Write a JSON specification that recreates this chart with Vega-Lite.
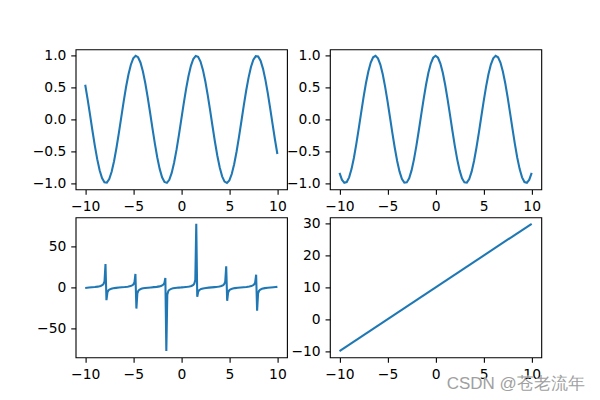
{
  "$schema": "https://vega.github.io/schema/vega-lite/v6.json",
  "padding": {"left": 31.6, "top": 47.4, "right": 5, "bottom": 5},
  "background": "white",
  "title": {"text": "CSDN @苍老流年", "orient": "bottom", "anchor": "end", "font": "Liberation Sans", "fontSize": 17, "fontWeight": "normal", "color": "#a0a0a0", "offset": -6, "dx": 43},
  "config": {
    "view": {"stroke": "black", "strokeWidth": 1.1},
    "axis": {"domain": false, "grid": false, "tickColor": "black", "tickSize": 4.86, "tickWidth": 1.1, "labelFont": "DejaVu Sans", "labelFontSize": 13.9, "labelColor": "black", "labelPadding": 4.86, "labelOverlap": false, "labelFlush": false, "title": null}
  },
  "datasets": {
    "trig": [
      {"x": -10, "s": 0.544, "c": -0.8391},
      {"x": -9.75, "s": 0.3195, "c": -0.9475},
      {"x": -9.5, "s": 0.0752, "c": -0.9972},
      {"x": -9.25, "s": -0.1743, "c": -0.9847},
      {"x": -9, "s": -0.4121, "c": -0.9111},
      {"x": -8.75, "s": -0.6247, "c": -0.7809},
      {"x": -8.5, "s": -0.7985, "c": -0.602},
      {"x": -8.25, "s": -0.9228, "c": -0.3853},
      {"x": -8, "s": -0.9894, "c": -0.1455},
      {"x": -7.75, "s": -0.9946, "c": 0.1037},
      {"x": -7.5, "s": -0.938, "c": 0.3466},
      {"x": -7.25, "s": -0.8231, "c": 0.5679},
      {"x": -7, "s": -0.657, "c": 0.7539},
      {"x": -6.75, "s": -0.45, "c": 0.8932},
      {"x": -6.5, "s": -0.2151, "c": 0.9766},
      {"x": -6.25, "s": 0.0332, "c": 0.9995},
      {"x": -6, "s": 0.2794, "c": 0.9602},
      {"x": -5.75, "s": 0.5083, "c": 0.8612},
      {"x": -5.5, "s": 0.7055, "c": 0.7087},
      {"x": -5.25, "s": 0.8589, "c": 0.5121},
      {"x": -5, "s": 0.9589, "c": 0.2837},
      {"x": -4.75, "s": 0.9993, "c": 0.0376},
      {"x": -4.5, "s": 0.9775, "c": -0.2108},
      {"x": -4.25, "s": 0.895, "c": -0.4461},
      {"x": -4, "s": 0.7568, "c": -0.6536},
      {"x": -3.75, "s": 0.5716, "c": -0.8206},
      {"x": -3.5, "s": 0.3508, "c": -0.9365},
      {"x": -3.25, "s": 0.108, "c": -0.9941},
      {"x": -3, "s": -0.1411, "c": -0.99},
      {"x": -2.75, "s": -0.3817, "c": -0.9243},
      {"x": -2.5, "s": -0.5985, "c": -0.8011},
      {"x": -2.25, "s": -0.7781, "c": -0.6282},
      {"x": -2, "s": -0.9093, "c": -0.4161},
      {"x": -1.75, "s": -0.984, "c": -0.1782},
      {"x": -1.5, "s": -0.9975, "c": 0.0707},
      {"x": -1.25, "s": -0.949, "c": 0.3153},
      {"x": -1, "s": -0.8415, "c": 0.5403},
      {"x": -0.75, "s": -0.6816, "c": 0.7317},
      {"x": -0.5, "s": -0.4794, "c": 0.8776},
      {"x": -0.25, "s": -0.2474, "c": 0.9689},
      {"x": 0, "s": 0, "c": 1},
      {"x": 0.25, "s": 0.2474, "c": 0.9689},
      {"x": 0.5, "s": 0.4794, "c": 0.8776},
      {"x": 0.75, "s": 0.6816, "c": 0.7317},
      {"x": 1, "s": 0.8415, "c": 0.5403},
      {"x": 1.25, "s": 0.949, "c": 0.3153},
      {"x": 1.5, "s": 0.9975, "c": 0.0707},
      {"x": 1.75, "s": 0.984, "c": -0.1782},
      {"x": 2, "s": 0.9093, "c": -0.4161},
      {"x": 2.25, "s": 0.7781, "c": -0.6282},
      {"x": 2.5, "s": 0.5985, "c": -0.8011},
      {"x": 2.75, "s": 0.3817, "c": -0.9243},
      {"x": 3, "s": 0.1411, "c": -0.99},
      {"x": 3.25, "s": -0.108, "c": -0.9941},
      {"x": 3.5, "s": -0.3508, "c": -0.9365},
      {"x": 3.75, "s": -0.5716, "c": -0.8206},
      {"x": 4, "s": -0.7568, "c": -0.6536},
      {"x": 4.25, "s": -0.895, "c": -0.4461},
      {"x": 4.5, "s": -0.9775, "c": -0.2108},
      {"x": 4.75, "s": -0.9993, "c": 0.0376},
      {"x": 5, "s": -0.9589, "c": 0.2837},
      {"x": 5.25, "s": -0.8589, "c": 0.5121},
      {"x": 5.5, "s": -0.7055, "c": 0.7087},
      {"x": 5.75, "s": -0.5083, "c": 0.8612},
      {"x": 6, "s": -0.2794, "c": 0.9602},
      {"x": 6.25, "s": -0.0332, "c": 0.9995},
      {"x": 6.5, "s": 0.2151, "c": 0.9766},
      {"x": 6.75, "s": 0.45, "c": 0.8932},
      {"x": 7, "s": 0.657, "c": 0.7539},
      {"x": 7.25, "s": 0.8231, "c": 0.5679},
      {"x": 7.5, "s": 0.938, "c": 0.3466},
      {"x": 7.75, "s": 0.9946, "c": 0.1037},
      {"x": 8, "s": 0.9894, "c": -0.1455},
      {"x": 8.25, "s": 0.9228, "c": -0.3853},
      {"x": 8.5, "s": 0.7985, "c": -0.602},
      {"x": 8.75, "s": 0.6247, "c": -0.7809},
      {"x": 9, "s": 0.4121, "c": -0.9111},
      {"x": 9.25, "s": 0.1743, "c": -0.9847},
      {"x": 9.5, "s": -0.0752, "c": -0.9972},
      {"x": 9.75, "s": -0.3195, "c": -0.9475},
      {"x": 10, "s": -0.544, "c": -0.8391}
    ],
    "tan": [
      {"x": -10, "t": -0.6484},
      {"x": -9.799, "t": -0.3927},
      {"x": -9.598, "t": -0.175},
      {"x": -9.2965, "t": 0.129},
      {"x": -8.995, "t": 0.4584},
      {"x": -8.6935, "t": 0.8981},
      {"x": -8.392, "t": 1.676},
      {"x": -8.191, "t": 2.855},
      {"x": -8.0905, "t": 4.15},
      {"x": -7.9899, "t": 7.309},
      {"x": -7.8894, "t": 28.18},
      {"x": -7.7889, "t": -15.35},
      {"x": -7.6884, "t": -5.986},
      {"x": -7.5879, "t": -3.67},
      {"x": -7.4874, "t": -2.605},
      {"x": -7.2864, "t": -1.5685},
      {"x": -7.0854, "t": -1.0342},
      {"x": -6.7839, "t": -0.5473},
      {"x": -6.4824, "t": -0.2019},
      {"x": -6.1809, "t": 0.1026},
      {"x": -5.8794, "t": 0.4273},
      {"x": -5.5779, "t": 0.8517},
      {"x": -5.2764, "t": 1.581},
      {"x": -5.0754, "t": 2.633},
      {"x": -4.9749, "t": 3.722},
      {"x": -4.8744, "t": 6.12},
      {"x": -4.7739, "t": 16.25},
      {"x": -4.6734, "t": -25.61},
      {"x": -4.5729, "t": -7.12},
      {"x": -4.4724, "t": -4.086},
      {"x": -4.3719, "t": -2.822},
      {"x": -4.1709, "t": -1.6625},
      {"x": -3.9698, "t": -1.0896},
      {"x": -3.7688, "t": -0.7249},
      {"x": -3.4673, "t": -0.3378},
      {"x": -3.1658, "t": -0.0242},
      {"x": -2.8643, "t": 0.2846},
      {"x": -2.5628, "t": 0.6534},
      {"x": -2.2613, "t": 1.211},
      {"x": -2.0603, "t": 1.877},
      {"x": -1.8593, "t": 3.37},
      {"x": -1.7588, "t": 5.256},
      {"x": -1.6583, "t": 11.4},
      {"x": -1.5578, "t": -76.88},
      {"x": -1.4573, "t": -8.772},
      {"x": -1.3568, "t": -4.601},
      {"x": -1.2563, "t": -3.074},
      {"x": -1.0553, "t": -1.765},
      {"x": -0.8543, "t": -1.148},
      {"x": -0.6533, "t": -0.7654},
      {"x": -0.4523, "t": -0.4859},
      {"x": -0.2513, "t": -0.2566},
      {"x": -0.0503, "t": -0.0503},
      {"x": 0.0503, "t": 0.0503},
      {"x": 0.2513, "t": 0.2566},
      {"x": 0.4523, "t": 0.4859},
      {"x": 0.6533, "t": 0.7654},
      {"x": 0.8543, "t": 1.148},
      {"x": 1.0553, "t": 1.765},
      {"x": 1.2563, "t": 3.074},
      {"x": 1.3568, "t": 4.601},
      {"x": 1.4573, "t": 8.772},
      {"x": 1.5578, "t": 76.88},
      {"x": 1.6583, "t": -11.4},
      {"x": 1.7588, "t": -5.256},
      {"x": 1.8593, "t": -3.37},
      {"x": 2.0603, "t": -1.877},
      {"x": 2.2613, "t": -1.211},
      {"x": 2.5628, "t": -0.6534},
      {"x": 2.8643, "t": -0.2846},
      {"x": 3.1658, "t": 0.0242},
      {"x": 3.4673, "t": 0.3378},
      {"x": 3.7688, "t": 0.7249},
      {"x": 3.9698, "t": 1.0896},
      {"x": 4.1709, "t": 1.6625},
      {"x": 4.3719, "t": 2.822},
      {"x": 4.4724, "t": 4.086},
      {"x": 4.5729, "t": 7.12},
      {"x": 4.6734, "t": 25.61},
      {"x": 4.7739, "t": -16.25},
      {"x": 4.8744, "t": -6.12},
      {"x": 4.9749, "t": -3.722},
      {"x": 5.0754, "t": -2.633},
      {"x": 5.2764, "t": -1.581},
      {"x": 5.5779, "t": -0.8517},
      {"x": 5.8794, "t": -0.4273},
      {"x": 6.1809, "t": -0.1026},
      {"x": 6.4824, "t": 0.2019},
      {"x": 6.7839, "t": 0.5473},
      {"x": 7.0854, "t": 1.0342},
      {"x": 7.2864, "t": 1.5685},
      {"x": 7.4874, "t": 2.605},
      {"x": 7.5879, "t": 3.67},
      {"x": 7.6884, "t": 5.986},
      {"x": 7.7889, "t": 15.35},
      {"x": 7.8894, "t": -28.18},
      {"x": 7.9899, "t": -7.309},
      {"x": 8.0905, "t": -4.15},
      {"x": 8.191, "t": -2.855},
      {"x": 8.392, "t": -1.676},
      {"x": 8.6935, "t": -0.8981},
      {"x": 8.995, "t": -0.4584},
      {"x": 9.2965, "t": -0.129},
      {"x": 9.598, "t": 0.175},
      {"x": 9.799, "t": 0.3927},
      {"x": 10, "t": 0.6484}
    ],
    "lin": [
      {"x": -10, "y": -10},
      {"x": 10, "y": 30}
    ]
  },
  "concat": [
    {
      "width": 211.4, "height": 140,
      "data": {"name": "trig"},
      "mark": {"type": "line", "color": "#1f77b4", "strokeWidth": 2.08},
      "encoding": {
        "x": {"field": "x", "type": "quantitative", "scale": {"domain": [-11, 11], "nice": false, "zero": false}, "axis": {"values": [-10, -5, 0, 5, 10]}},
        "y": {"field": "s", "type": "quantitative", "scale": {"domain": [-1.1, 1.1], "nice": false, "zero": false}, "axis": {"values": [-1, -0.5, 0, 0.5, 1], "format": ".1f"}}
      }
    },
    {
      "width": 211.4, "height": 140,
      "data": {"name": "trig"},
      "mark": {"type": "line", "color": "#1f77b4", "strokeWidth": 2.08},
      "encoding": {
        "x": {"field": "x", "type": "quantitative", "scale": {"domain": [-11, 11], "nice": false, "zero": false}, "axis": {"values": [-10, -5, 0, 5, 10]}},
        "y": {"field": "c", "type": "quantitative", "scale": {"domain": [-1.1, 1.1], "nice": false, "zero": false}, "axis": {"values": [-1, -0.5, 0, 0.5, 1], "format": ".1f"}}
      }
    },
    {
      "width": 211.4, "height": 140,
      "data": {"name": "tan"},
      "mark": {"type": "line", "color": "#1f77b4", "strokeWidth": 2.08},
      "encoding": {
        "x": {"field": "x", "type": "quantitative", "scale": {"domain": [-11, 11], "nice": false, "zero": false}, "axis": {"values": [-10, -5, 0, 5, 10]}},
        "y": {"field": "t", "type": "quantitative", "scale": {"domain": [-84.57, 84.57], "nice": false, "zero": false}, "axis": {"values": [-50, 0, 50], "format": "d"}}
      }
    },
    {
      "width": 211.4, "height": 140,
      "data": {"name": "lin"},
      "mark": {"type": "line", "color": "#1f77b4", "strokeWidth": 2.08},
      "encoding": {
        "x": {"field": "x", "type": "quantitative", "scale": {"domain": [-11, 11], "nice": false, "zero": false}, "axis": {"values": [-10, -5, 0, 5, 10]}},
        "y": {"field": "y", "type": "quantitative", "scale": {"domain": [-12, 32], "nice": false, "zero": false}, "axis": {"values": [-10, 0, 10, 20, 30], "format": "d"}}
      }
    }
  ],
  "columns": 2,
  "spacing": {"row": 28, "column": 42.3},
  "bounds": "flush"
}
